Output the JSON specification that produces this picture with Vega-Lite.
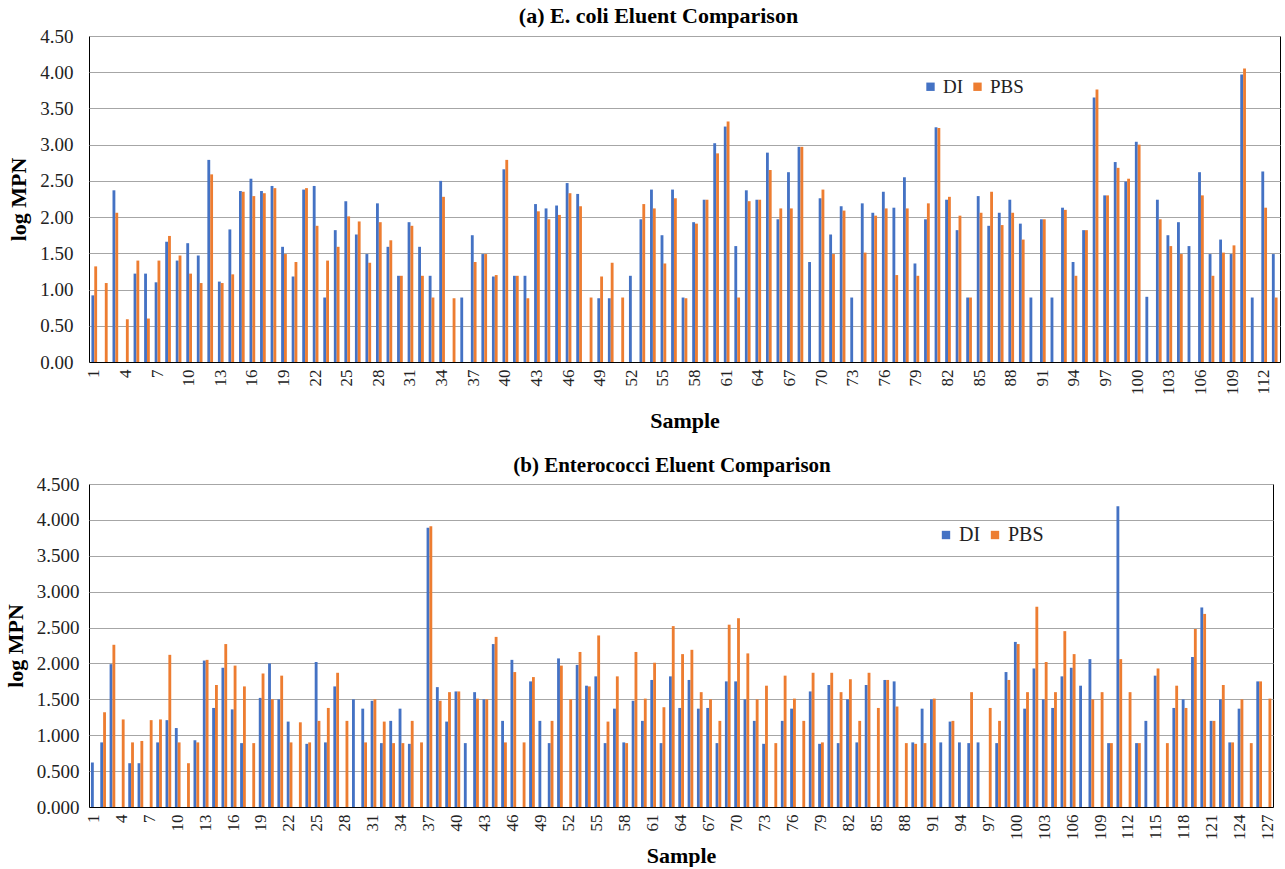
{
  "$schema": "https://vega.github.io/schema/vega-lite/v6.json",
  "background": "white",
  "padding": {"left": 3, "top": 4, "right": 4, "bottom": 0},
  "spacing": 22,
  "config": {
    "font": "Liberation Serif",
    "view": {"stroke": "#000000", "strokeWidth": 1},
    "title": {"font": "Liberation Serif", "fontSize": 21, "fontWeight": "bold", "color": "#000000", "anchor": "middle"},
    "axis": {"labelFont": "Liberation Serif", "titleFont": "Liberation Serif", "labelColor": "#222222", "titleColor": "#000000", "titleFontWeight": "bold", "titleFontSize": 22},
    "axisY": {"grid": true, "gridColor": "#a6a6a6", "gridWidth": 1, "ticks": false, "domain": false, "labelFontSize": 19, "labelPadding": 16},
    "axisX": {"grid": false, "ticks": false, "domain": true, "domainColor": "#000000", "labelAngle": 270, "labelFontSize": 17, "labelPadding": 7, "titlePadding": 14},
    "legend": {"orient": "none", "direction": "horizontal", "title": null, "symbolType": "square", "symbolSize": 70, "symbolStrokeWidth": 0, "labelFont": "Liberation Serif", "labelFontSize": 19, "labelColor": "#222222", "columnPadding": 4, "labelOffset": 3}
  },
  "datasets": {
    "ecoli": [
      {"sample":1,"eluent":"DI","logMPN":0.92},{"sample":1,"eluent":"PBS","logMPN":1.32},
      {"sample":2,"eluent":"DI","logMPN":0},{"sample":2,"eluent":"PBS","logMPN":1.09},
      {"sample":3,"eluent":"DI","logMPN":2.37},{"sample":3,"eluent":"PBS","logMPN":2.06},
      {"sample":4,"eluent":"DI","logMPN":0},{"sample":4,"eluent":"PBS","logMPN":0.59},
      {"sample":5,"eluent":"DI","logMPN":1.22},{"sample":5,"eluent":"PBS","logMPN":1.40},
      {"sample":6,"eluent":"DI","logMPN":1.22},{"sample":6,"eluent":"PBS","logMPN":0.60},
      {"sample":7,"eluent":"DI","logMPN":1.10},{"sample":7,"eluent":"PBS","logMPN":1.40},
      {"sample":8,"eluent":"DI","logMPN":1.66},{"sample":8,"eluent":"PBS","logMPN":1.74},
      {"sample":9,"eluent":"DI","logMPN":1.40},{"sample":9,"eluent":"PBS","logMPN":1.47},
      {"sample":10,"eluent":"DI","logMPN":1.64},{"sample":10,"eluent":"PBS","logMPN":1.22},
      {"sample":11,"eluent":"DI","logMPN":1.47},{"sample":11,"eluent":"PBS","logMPN":1.09},
      {"sample":12,"eluent":"DI","logMPN":2.79},{"sample":12,"eluent":"PBS","logMPN":2.59},
      {"sample":13,"eluent":"DI","logMPN":1.11},{"sample":13,"eluent":"PBS","logMPN":1.09},
      {"sample":14,"eluent":"DI","logMPN":1.83},{"sample":14,"eluent":"PBS","logMPN":1.21},
      {"sample":15,"eluent":"DI","logMPN":2.36},{"sample":15,"eluent":"PBS","logMPN":2.35},
      {"sample":16,"eluent":"DI","logMPN":2.53},{"sample":16,"eluent":"PBS","logMPN":2.29},
      {"sample":17,"eluent":"DI","logMPN":2.36},{"sample":17,"eluent":"PBS","logMPN":2.33},
      {"sample":18,"eluent":"DI","logMPN":2.43},{"sample":18,"eluent":"PBS","logMPN":2.40},
      {"sample":19,"eluent":"DI","logMPN":1.59},{"sample":19,"eluent":"PBS","logMPN":1.49},
      {"sample":20,"eluent":"DI","logMPN":1.18},{"sample":20,"eluent":"PBS","logMPN":1.38},
      {"sample":21,"eluent":"DI","logMPN":2.38},{"sample":21,"eluent":"PBS","logMPN":2.40},
      {"sample":22,"eluent":"DI","logMPN":2.43},{"sample":22,"eluent":"PBS","logMPN":1.88},
      {"sample":23,"eluent":"DI","logMPN":0.89},{"sample":23,"eluent":"PBS","logMPN":1.40},
      {"sample":24,"eluent":"DI","logMPN":1.82},{"sample":24,"eluent":"PBS","logMPN":1.59},
      {"sample":25,"eluent":"DI","logMPN":2.22},{"sample":25,"eluent":"PBS","logMPN":2.01},
      {"sample":26,"eluent":"DI","logMPN":1.76},{"sample":26,"eluent":"PBS","logMPN":1.94},
      {"sample":27,"eluent":"DI","logMPN":1.49},{"sample":27,"eluent":"PBS","logMPN":1.37},
      {"sample":28,"eluent":"DI","logMPN":2.19},{"sample":28,"eluent":"PBS","logMPN":1.93},
      {"sample":29,"eluent":"DI","logMPN":1.59},{"sample":29,"eluent":"PBS","logMPN":1.68},
      {"sample":30,"eluent":"DI","logMPN":1.19},{"sample":30,"eluent":"PBS","logMPN":1.19},
      {"sample":31,"eluent":"DI","logMPN":1.93},{"sample":31,"eluent":"PBS","logMPN":1.88},
      {"sample":32,"eluent":"DI","logMPN":1.59},{"sample":32,"eluent":"PBS","logMPN":1.19},
      {"sample":33,"eluent":"DI","logMPN":1.19},{"sample":33,"eluent":"PBS","logMPN":0.89},
      {"sample":34,"eluent":"DI","logMPN":2.50},{"sample":34,"eluent":"PBS","logMPN":2.28},
      {"sample":35,"eluent":"DI","logMPN":0},{"sample":35,"eluent":"PBS","logMPN":0.88},
      {"sample":36,"eluent":"DI","logMPN":0.89},{"sample":36,"eluent":"PBS","logMPN":0},
      {"sample":37,"eluent":"DI","logMPN":1.75},{"sample":37,"eluent":"PBS","logMPN":1.38},
      {"sample":38,"eluent":"DI","logMPN":1.49},{"sample":38,"eluent":"PBS","logMPN":1.49},
      {"sample":39,"eluent":"DI","logMPN":1.18},{"sample":39,"eluent":"PBS","logMPN":1.20},
      {"sample":40,"eluent":"DI","logMPN":2.66},{"sample":40,"eluent":"PBS","logMPN":2.79},
      {"sample":41,"eluent":"DI","logMPN":1.19},{"sample":41,"eluent":"PBS","logMPN":1.19},
      {"sample":42,"eluent":"DI","logMPN":1.19},{"sample":42,"eluent":"PBS","logMPN":0.88},
      {"sample":43,"eluent":"DI","logMPN":2.18},{"sample":43,"eluent":"PBS","logMPN":2.08},
      {"sample":44,"eluent":"DI","logMPN":2.12},{"sample":44,"eluent":"PBS","logMPN":1.97},
      {"sample":45,"eluent":"DI","logMPN":2.16},{"sample":45,"eluent":"PBS","logMPN":2.03},
      {"sample":46,"eluent":"DI","logMPN":2.47},{"sample":46,"eluent":"PBS","logMPN":2.33},
      {"sample":47,"eluent":"DI","logMPN":2.32},{"sample":47,"eluent":"PBS","logMPN":2.15},
      {"sample":48,"eluent":"DI","logMPN":0},{"sample":48,"eluent":"PBS","logMPN":0.89},
      {"sample":49,"eluent":"DI","logMPN":0.88},{"sample":49,"eluent":"PBS","logMPN":1.18},
      {"sample":50,"eluent":"DI","logMPN":0.88},{"sample":50,"eluent":"PBS","logMPN":1.37},
      {"sample":51,"eluent":"DI","logMPN":0},{"sample":51,"eluent":"PBS","logMPN":0.89},
      {"sample":52,"eluent":"DI","logMPN":1.19},{"sample":52,"eluent":"PBS","logMPN":0},
      {"sample":53,"eluent":"DI","logMPN":1.97},{"sample":53,"eluent":"PBS","logMPN":2.18},
      {"sample":54,"eluent":"DI","logMPN":2.38},{"sample":54,"eluent":"PBS","logMPN":2.12},
      {"sample":55,"eluent":"DI","logMPN":1.75},{"sample":55,"eluent":"PBS","logMPN":1.36},
      {"sample":56,"eluent":"DI","logMPN":2.38},{"sample":56,"eluent":"PBS","logMPN":2.26},
      {"sample":57,"eluent":"DI","logMPN":0.89},{"sample":57,"eluent":"PBS","logMPN":0.88},
      {"sample":58,"eluent":"DI","logMPN":1.93},{"sample":58,"eluent":"PBS","logMPN":1.91},
      {"sample":59,"eluent":"DI","logMPN":2.24},{"sample":59,"eluent":"PBS","logMPN":2.24},
      {"sample":60,"eluent":"DI","logMPN":3.02},{"sample":60,"eluent":"PBS","logMPN":2.88},
      {"sample":61,"eluent":"DI","logMPN":3.25},{"sample":61,"eluent":"PBS","logMPN":3.32},
      {"sample":62,"eluent":"DI","logMPN":1.60},{"sample":62,"eluent":"PBS","logMPN":0.89},
      {"sample":63,"eluent":"DI","logMPN":2.37},{"sample":63,"eluent":"PBS","logMPN":2.22},
      {"sample":64,"eluent":"DI","logMPN":2.24},{"sample":64,"eluent":"PBS","logMPN":2.24},
      {"sample":65,"eluent":"DI","logMPN":2.89},{"sample":65,"eluent":"PBS","logMPN":2.65},
      {"sample":66,"eluent":"DI","logMPN":1.97},{"sample":66,"eluent":"PBS","logMPN":2.12},
      {"sample":67,"eluent":"DI","logMPN":2.62},{"sample":67,"eluent":"PBS","logMPN":2.12},
      {"sample":68,"eluent":"DI","logMPN":2.97},{"sample":68,"eluent":"PBS","logMPN":2.97},
      {"sample":69,"eluent":"DI","logMPN":1.38},{"sample":69,"eluent":"PBS","logMPN":0},
      {"sample":70,"eluent":"DI","logMPN":2.26},{"sample":70,"eluent":"PBS","logMPN":2.38},
      {"sample":71,"eluent":"DI","logMPN":1.76},{"sample":71,"eluent":"PBS","logMPN":1.49},
      {"sample":72,"eluent":"DI","logMPN":2.15},{"sample":72,"eluent":"PBS","logMPN":2.09},
      {"sample":73,"eluent":"DI","logMPN":0.89},{"sample":73,"eluent":"PBS","logMPN":0},
      {"sample":74,"eluent":"DI","logMPN":2.19},{"sample":74,"eluent":"PBS","logMPN":1.51},
      {"sample":75,"eluent":"DI","logMPN":2.06},{"sample":75,"eluent":"PBS","logMPN":2.02},
      {"sample":76,"eluent":"DI","logMPN":2.35},{"sample":76,"eluent":"PBS","logMPN":2.12},
      {"sample":77,"eluent":"DI","logMPN":2.13},{"sample":77,"eluent":"PBS","logMPN":1.20},
      {"sample":78,"eluent":"DI","logMPN":2.55},{"sample":78,"eluent":"PBS","logMPN":2.12},
      {"sample":79,"eluent":"DI","logMPN":1.36},{"sample":79,"eluent":"PBS","logMPN":1.19},
      {"sample":80,"eluent":"DI","logMPN":1.97},{"sample":80,"eluent":"PBS","logMPN":2.19},
      {"sample":81,"eluent":"DI","logMPN":3.24},{"sample":81,"eluent":"PBS","logMPN":3.23},
      {"sample":82,"eluent":"DI","logMPN":2.24},{"sample":82,"eluent":"PBS","logMPN":2.28},
      {"sample":83,"eluent":"DI","logMPN":1.82},{"sample":83,"eluent":"PBS","logMPN":2.02},
      {"sample":84,"eluent":"DI","logMPN":0.89},{"sample":84,"eluent":"PBS","logMPN":0.89},
      {"sample":85,"eluent":"DI","logMPN":2.29},{"sample":85,"eluent":"PBS","logMPN":2.06},
      {"sample":86,"eluent":"DI","logMPN":1.88},{"sample":86,"eluent":"PBS","logMPN":2.35},
      {"sample":87,"eluent":"DI","logMPN":2.06},{"sample":87,"eluent":"PBS","logMPN":1.89},
      {"sample":88,"eluent":"DI","logMPN":2.24},{"sample":88,"eluent":"PBS","logMPN":2.06},
      {"sample":89,"eluent":"DI","logMPN":1.91},{"sample":89,"eluent":"PBS","logMPN":1.69},
      {"sample":90,"eluent":"DI","logMPN":0.89},{"sample":90,"eluent":"PBS","logMPN":0},
      {"sample":91,"eluent":"DI","logMPN":1.97},{"sample":91,"eluent":"PBS","logMPN":1.97},
      {"sample":92,"eluent":"DI","logMPN":0.89},{"sample":92,"eluent":"PBS","logMPN":0},
      {"sample":93,"eluent":"DI","logMPN":2.13},{"sample":93,"eluent":"PBS","logMPN":2.10},
      {"sample":94,"eluent":"DI","logMPN":1.38},{"sample":94,"eluent":"PBS","logMPN":1.19},
      {"sample":95,"eluent":"DI","logMPN":1.82},{"sample":95,"eluent":"PBS","logMPN":1.82},
      {"sample":96,"eluent":"DI","logMPN":3.65},{"sample":96,"eluent":"PBS","logMPN":3.76},
      {"sample":97,"eluent":"DI","logMPN":2.30},{"sample":97,"eluent":"PBS","logMPN":2.30},
      {"sample":98,"eluent":"DI","logMPN":2.76},{"sample":98,"eluent":"PBS","logMPN":2.68},
      {"sample":99,"eluent":"DI","logMPN":2.49},{"sample":99,"eluent":"PBS","logMPN":2.53},
      {"sample":100,"eluent":"DI","logMPN":3.04},{"sample":100,"eluent":"PBS","logMPN":3.00},
      {"sample":101,"eluent":"DI","logMPN":0.90},{"sample":101,"eluent":"PBS","logMPN":0},
      {"sample":102,"eluent":"DI","logMPN":2.24},{"sample":102,"eluent":"PBS","logMPN":1.97},
      {"sample":103,"eluent":"DI","logMPN":1.75},{"sample":103,"eluent":"PBS","logMPN":1.60},
      {"sample":104,"eluent":"DI","logMPN":1.93},{"sample":104,"eluent":"PBS","logMPN":1.49},
      {"sample":105,"eluent":"DI","logMPN":1.60},{"sample":105,"eluent":"PBS","logMPN":0},
      {"sample":106,"eluent":"DI","logMPN":2.62},{"sample":106,"eluent":"PBS","logMPN":2.30},
      {"sample":107,"eluent":"DI","logMPN":1.49},{"sample":107,"eluent":"PBS","logMPN":1.19},
      {"sample":108,"eluent":"DI","logMPN":1.69},{"sample":108,"eluent":"PBS","logMPN":1.51},
      {"sample":109,"eluent":"DI","logMPN":1.49},{"sample":109,"eluent":"PBS","logMPN":1.61},
      {"sample":110,"eluent":"DI","logMPN":3.97},{"sample":110,"eluent":"PBS","logMPN":4.05},
      {"sample":111,"eluent":"DI","logMPN":0.89},{"sample":111,"eluent":"PBS","logMPN":0},
      {"sample":112,"eluent":"DI","logMPN":2.63},{"sample":112,"eluent":"PBS","logMPN":2.13},
      {"sample":113,"eluent":"DI","logMPN":1.49},{"sample":113,"eluent":"PBS","logMPN":0.89}
    ],
    "entero": [
      {"sample":1,"eluent":"DI","logMPN":0.62},{"sample":1,"eluent":"PBS","logMPN":0},
      {"sample":2,"eluent":"DI","logMPN":0.90},{"sample":2,"eluent":"PBS","logMPN":1.32},
      {"sample":3,"eluent":"DI","logMPN":1.99},{"sample":3,"eluent":"PBS","logMPN":2.26},
      {"sample":4,"eluent":"DI","logMPN":0},{"sample":4,"eluent":"PBS","logMPN":1.22},
      {"sample":5,"eluent":"DI","logMPN":0.61},{"sample":5,"eluent":"PBS","logMPN":0.90},
      {"sample":6,"eluent":"DI","logMPN":0.61},{"sample":6,"eluent":"PBS","logMPN":0.92},
      {"sample":7,"eluent":"DI","logMPN":0},{"sample":7,"eluent":"PBS","logMPN":1.21},
      {"sample":8,"eluent":"DI","logMPN":0.90},{"sample":8,"eluent":"PBS","logMPN":1.22},
      {"sample":9,"eluent":"DI","logMPN":1.21},{"sample":9,"eluent":"PBS","logMPN":2.12},
      {"sample":10,"eluent":"DI","logMPN":1.10},{"sample":10,"eluent":"PBS","logMPN":0.90},
      {"sample":11,"eluent":"DI","logMPN":0},{"sample":11,"eluent":"PBS","logMPN":0.61},
      {"sample":12,"eluent":"DI","logMPN":0.93},{"sample":12,"eluent":"PBS","logMPN":0.90},
      {"sample":13,"eluent":"DI","logMPN":2.04},{"sample":13,"eluent":"PBS","logMPN":2.05},
      {"sample":14,"eluent":"DI","logMPN":1.38},{"sample":14,"eluent":"PBS","logMPN":1.70},
      {"sample":15,"eluent":"DI","logMPN":1.94},{"sample":15,"eluent":"PBS","logMPN":2.27},
      {"sample":16,"eluent":"DI","logMPN":1.36},{"sample":16,"eluent":"PBS","logMPN":1.97},
      {"sample":17,"eluent":"DI","logMPN":0.89},{"sample":17,"eluent":"PBS","logMPN":1.68},
      {"sample":18,"eluent":"DI","logMPN":0},{"sample":18,"eluent":"PBS","logMPN":0.89},
      {"sample":19,"eluent":"DI","logMPN":1.52},{"sample":19,"eluent":"PBS","logMPN":1.86},
      {"sample":20,"eluent":"DI","logMPN":2.00},{"sample":20,"eluent":"PBS","logMPN":1.50},
      {"sample":21,"eluent":"DI","logMPN":1.50},{"sample":21,"eluent":"PBS","logMPN":1.83},
      {"sample":22,"eluent":"DI","logMPN":1.19},{"sample":22,"eluent":"PBS","logMPN":0.90},
      {"sample":23,"eluent":"DI","logMPN":0},{"sample":23,"eluent":"PBS","logMPN":1.18},
      {"sample":24,"eluent":"DI","logMPN":0.88},{"sample":24,"eluent":"PBS","logMPN":0.90},
      {"sample":25,"eluent":"DI","logMPN":2.02},{"sample":25,"eluent":"PBS","logMPN":1.20},
      {"sample":26,"eluent":"DI","logMPN":0.90},{"sample":26,"eluent":"PBS","logMPN":1.38},
      {"sample":27,"eluent":"DI","logMPN":1.68},{"sample":27,"eluent":"PBS","logMPN":1.87},
      {"sample":28,"eluent":"DI","logMPN":0},{"sample":28,"eluent":"PBS","logMPN":1.20},
      {"sample":29,"eluent":"DI","logMPN":1.50},{"sample":29,"eluent":"PBS","logMPN":0},
      {"sample":30,"eluent":"DI","logMPN":1.37},{"sample":30,"eluent":"PBS","logMPN":0.90},
      {"sample":31,"eluent":"DI","logMPN":1.48},{"sample":31,"eluent":"PBS","logMPN":1.50},
      {"sample":32,"eluent":"DI","logMPN":0.89},{"sample":32,"eluent":"PBS","logMPN":1.19},
      {"sample":33,"eluent":"DI","logMPN":1.20},{"sample":33,"eluent":"PBS","logMPN":0.89},
      {"sample":34,"eluent":"DI","logMPN":1.37},{"sample":34,"eluent":"PBS","logMPN":0.89},
      {"sample":35,"eluent":"DI","logMPN":0.88},{"sample":35,"eluent":"PBS","logMPN":1.20},
      {"sample":36,"eluent":"DI","logMPN":0},{"sample":36,"eluent":"PBS","logMPN":0.90},
      {"sample":37,"eluent":"DI","logMPN":3.89},{"sample":37,"eluent":"PBS","logMPN":3.91},
      {"sample":38,"eluent":"DI","logMPN":1.67},{"sample":38,"eluent":"PBS","logMPN":1.48},
      {"sample":39,"eluent":"DI","logMPN":1.19},{"sample":39,"eluent":"PBS","logMPN":1.60},
      {"sample":40,"eluent":"DI","logMPN":1.61},{"sample":40,"eluent":"PBS","logMPN":1.61},
      {"sample":41,"eluent":"DI","logMPN":0.89},{"sample":41,"eluent":"PBS","logMPN":0},
      {"sample":42,"eluent":"DI","logMPN":1.60},{"sample":42,"eluent":"PBS","logMPN":1.51},
      {"sample":43,"eluent":"DI","logMPN":1.50},{"sample":43,"eluent":"PBS","logMPN":1.50},
      {"sample":44,"eluent":"DI","logMPN":2.27},{"sample":44,"eluent":"PBS","logMPN":2.37},
      {"sample":45,"eluent":"DI","logMPN":1.20},{"sample":45,"eluent":"PBS","logMPN":0.90},
      {"sample":46,"eluent":"DI","logMPN":2.05},{"sample":46,"eluent":"PBS","logMPN":1.88},
      {"sample":47,"eluent":"DI","logMPN":0},{"sample":47,"eluent":"PBS","logMPN":0.90},
      {"sample":48,"eluent":"DI","logMPN":1.75},{"sample":48,"eluent":"PBS","logMPN":1.81},
      {"sample":49,"eluent":"DI","logMPN":1.20},{"sample":49,"eluent":"PBS","logMPN":0},
      {"sample":50,"eluent":"DI","logMPN":0.89},{"sample":50,"eluent":"PBS","logMPN":1.20},
      {"sample":51,"eluent":"DI","logMPN":2.07},{"sample":51,"eluent":"PBS","logMPN":1.97},
      {"sample":52,"eluent":"DI","logMPN":0},{"sample":52,"eluent":"PBS","logMPN":1.50},
      {"sample":53,"eluent":"DI","logMPN":1.98},{"sample":53,"eluent":"PBS","logMPN":2.16},
      {"sample":54,"eluent":"DI","logMPN":1.69},{"sample":54,"eluent":"PBS","logMPN":1.68},
      {"sample":55,"eluent":"DI","logMPN":1.82},{"sample":55,"eluent":"PBS","logMPN":2.39},
      {"sample":56,"eluent":"DI","logMPN":0.89},{"sample":56,"eluent":"PBS","logMPN":1.19},
      {"sample":57,"eluent":"DI","logMPN":1.37},{"sample":57,"eluent":"PBS","logMPN":1.82},
      {"sample":58,"eluent":"DI","logMPN":0.90},{"sample":58,"eluent":"PBS","logMPN":0.89},
      {"sample":59,"eluent":"DI","logMPN":1.48},{"sample":59,"eluent":"PBS","logMPN":2.16},
      {"sample":60,"eluent":"DI","logMPN":1.20},{"sample":60,"eluent":"PBS","logMPN":1.51},
      {"sample":61,"eluent":"DI","logMPN":1.77},{"sample":61,"eluent":"PBS","logMPN":2.01},
      {"sample":62,"eluent":"DI","logMPN":0.89},{"sample":62,"eluent":"PBS","logMPN":1.39},
      {"sample":63,"eluent":"DI","logMPN":1.82},{"sample":63,"eluent":"PBS","logMPN":2.52},
      {"sample":64,"eluent":"DI","logMPN":1.38},{"sample":64,"eluent":"PBS","logMPN":2.13},
      {"sample":65,"eluent":"DI","logMPN":1.77},{"sample":65,"eluent":"PBS","logMPN":2.19},
      {"sample":66,"eluent":"DI","logMPN":1.37},{"sample":66,"eluent":"PBS","logMPN":1.60},
      {"sample":67,"eluent":"DI","logMPN":1.38},{"sample":67,"eluent":"PBS","logMPN":1.50},
      {"sample":68,"eluent":"DI","logMPN":0.89},{"sample":68,"eluent":"PBS","logMPN":1.20},
      {"sample":69,"eluent":"DI","logMPN":1.75},{"sample":69,"eluent":"PBS","logMPN":2.54},
      {"sample":70,"eluent":"DI","logMPN":1.75},{"sample":70,"eluent":"PBS","logMPN":2.63},
      {"sample":71,"eluent":"DI","logMPN":1.50},{"sample":71,"eluent":"PBS","logMPN":2.14},
      {"sample":72,"eluent":"DI","logMPN":1.20},{"sample":72,"eluent":"PBS","logMPN":1.50},
      {"sample":73,"eluent":"DI","logMPN":0.88},{"sample":73,"eluent":"PBS","logMPN":1.69},
      {"sample":74,"eluent":"DI","logMPN":0},{"sample":74,"eluent":"PBS","logMPN":0.89},
      {"sample":75,"eluent":"DI","logMPN":1.20},{"sample":75,"eluent":"PBS","logMPN":1.83},
      {"sample":76,"eluent":"DI","logMPN":1.37},{"sample":76,"eluent":"PBS","logMPN":1.51},
      {"sample":77,"eluent":"DI","logMPN":0},{"sample":77,"eluent":"PBS","logMPN":1.20},
      {"sample":78,"eluent":"DI","logMPN":1.61},{"sample":78,"eluent":"PBS","logMPN":1.87},
      {"sample":79,"eluent":"DI","logMPN":0.88},{"sample":79,"eluent":"PBS","logMPN":0.90},
      {"sample":80,"eluent":"DI","logMPN":1.70},{"sample":80,"eluent":"PBS","logMPN":1.87},
      {"sample":81,"eluent":"DI","logMPN":0.89},{"sample":81,"eluent":"PBS","logMPN":1.60},
      {"sample":82,"eluent":"DI","logMPN":1.50},{"sample":82,"eluent":"PBS","logMPN":1.78},
      {"sample":83,"eluent":"DI","logMPN":0.90},{"sample":83,"eluent":"PBS","logMPN":1.20},
      {"sample":84,"eluent":"DI","logMPN":1.70},{"sample":84,"eluent":"PBS","logMPN":1.87},
      {"sample":85,"eluent":"DI","logMPN":0},{"sample":85,"eluent":"PBS","logMPN":1.38},
      {"sample":86,"eluent":"DI","logMPN":1.77},{"sample":86,"eluent":"PBS","logMPN":1.77},
      {"sample":87,"eluent":"DI","logMPN":1.75},{"sample":87,"eluent":"PBS","logMPN":1.40},
      {"sample":88,"eluent":"DI","logMPN":0},{"sample":88,"eluent":"PBS","logMPN":0.89},
      {"sample":89,"eluent":"DI","logMPN":0.90},{"sample":89,"eluent":"PBS","logMPN":0.88},
      {"sample":90,"eluent":"DI","logMPN":1.37},{"sample":90,"eluent":"PBS","logMPN":0.89},
      {"sample":91,"eluent":"DI","logMPN":1.50},{"sample":91,"eluent":"PBS","logMPN":1.51},
      {"sample":92,"eluent":"DI","logMPN":0.90},{"sample":92,"eluent":"PBS","logMPN":0},
      {"sample":93,"eluent":"DI","logMPN":1.19},{"sample":93,"eluent":"PBS","logMPN":1.20},
      {"sample":94,"eluent":"DI","logMPN":0.90},{"sample":94,"eluent":"PBS","logMPN":0},
      {"sample":95,"eluent":"DI","logMPN":0.89},{"sample":95,"eluent":"PBS","logMPN":1.60},
      {"sample":96,"eluent":"DI","logMPN":0.90},{"sample":96,"eluent":"PBS","logMPN":0},
      {"sample":97,"eluent":"DI","logMPN":0},{"sample":97,"eluent":"PBS","logMPN":1.38},
      {"sample":98,"eluent":"DI","logMPN":0.89},{"sample":98,"eluent":"PBS","logMPN":1.20},
      {"sample":99,"eluent":"DI","logMPN":1.88},{"sample":99,"eluent":"PBS","logMPN":1.77},
      {"sample":100,"eluent":"DI","logMPN":2.30},{"sample":100,"eluent":"PBS","logMPN":2.27},
      {"sample":101,"eluent":"DI","logMPN":1.37},{"sample":101,"eluent":"PBS","logMPN":1.60},
      {"sample":102,"eluent":"DI","logMPN":1.93},{"sample":102,"eluent":"PBS","logMPN":2.79},
      {"sample":103,"eluent":"DI","logMPN":1.50},{"sample":103,"eluent":"PBS","logMPN":2.02},
      {"sample":104,"eluent":"DI","logMPN":1.38},{"sample":104,"eluent":"PBS","logMPN":1.60},
      {"sample":105,"eluent":"DI","logMPN":1.82},{"sample":105,"eluent":"PBS","logMPN":2.45},
      {"sample":106,"eluent":"DI","logMPN":1.94},{"sample":106,"eluent":"PBS","logMPN":2.13},
      {"sample":107,"eluent":"DI","logMPN":1.69},{"sample":107,"eluent":"PBS","logMPN":0},
      {"sample":108,"eluent":"DI","logMPN":2.06},{"sample":108,"eluent":"PBS","logMPN":1.50},
      {"sample":109,"eluent":"DI","logMPN":0},{"sample":109,"eluent":"PBS","logMPN":1.60},
      {"sample":110,"eluent":"DI","logMPN":0.89},{"sample":110,"eluent":"PBS","logMPN":0.89},
      {"sample":111,"eluent":"DI","logMPN":4.19},{"sample":111,"eluent":"PBS","logMPN":2.06},
      {"sample":112,"eluent":"DI","logMPN":0},{"sample":112,"eluent":"PBS","logMPN":1.60},
      {"sample":113,"eluent":"DI","logMPN":0.89},{"sample":113,"eluent":"PBS","logMPN":0.89},
      {"sample":114,"eluent":"DI","logMPN":1.20},{"sample":114,"eluent":"PBS","logMPN":0},
      {"sample":115,"eluent":"DI","logMPN":1.83},{"sample":115,"eluent":"PBS","logMPN":1.93},
      {"sample":116,"eluent":"DI","logMPN":0},{"sample":116,"eluent":"PBS","logMPN":0.89},
      {"sample":117,"eluent":"DI","logMPN":1.38},{"sample":117,"eluent":"PBS","logMPN":1.69},
      {"sample":118,"eluent":"DI","logMPN":1.50},{"sample":118,"eluent":"PBS","logMPN":1.38},
      {"sample":119,"eluent":"DI","logMPN":2.09},{"sample":119,"eluent":"PBS","logMPN":2.48},
      {"sample":120,"eluent":"DI","logMPN":2.78},{"sample":120,"eluent":"PBS","logMPN":2.69},
      {"sample":121,"eluent":"DI","logMPN":1.20},{"sample":121,"eluent":"PBS","logMPN":1.20},
      {"sample":122,"eluent":"DI","logMPN":1.50},{"sample":122,"eluent":"PBS","logMPN":1.70},
      {"sample":123,"eluent":"DI","logMPN":0.90},{"sample":123,"eluent":"PBS","logMPN":0.90},
      {"sample":124,"eluent":"DI","logMPN":1.37},{"sample":124,"eluent":"PBS","logMPN":1.50},
      {"sample":125,"eluent":"DI","logMPN":0},{"sample":125,"eluent":"PBS","logMPN":0.89},
      {"sample":126,"eluent":"DI","logMPN":1.75},{"sample":126,"eluent":"PBS","logMPN":1.75},
      {"sample":127,"eluent":"DI","logMPN":0},{"sample":127,"eluent":"PBS","logMPN":1.51}
    ]
  },
  "vconcat": [
    {
      "title": {"text": "(a) E. coli Eluent Comparison", "fontSize": 22, "dx": -26, "offset": -1},
      "data": {"name": "ecoli"},
      "width": 1191,
      "height": 326,
      "mark": {"type": "bar"},
      "encoding": {
        "x": {
          "field": "sample", "type": "ordinal",
          "scale": {"paddingInner": 0.46, "paddingOuter": 0.23},
          "axis": {"title": "Sample", "titlePadding": 16, "values": [1,4,7,10,13,16,19,22,25,28,31,34,37,40,43,46,49,52,55,58,61,64,67,70,73,76,79,82,85,88,91,94,97,100,103,106,109,112]}
        },
        "xOffset": {"field": "eluent", "type": "nominal", "sort": ["DI", "PBS"]},
        "y": {
          "field": "logMPN", "type": "quantitative",
          "scale": {"domain": [0, 4.5], "nice": false},
          "axis": {"title": "log MPN", "values": [0,0.5,1,1.5,2,2.5,3,3.5,4,4.5], "format": ".2f", "titleX": -59, "titleBaseline": "bottom"}
        },
        "color": {
          "field": "eluent", "type": "nominal", "sort": ["DI", "PBS"],
          "scale": {"domain": ["DI", "PBS"], "range": ["#4472C4", "#ED7D31"]},
          "legend": {"legendX": 832, "legendY": 41}
        }
      }
    },
    {
      "title": {"text": "(b) Enterococci Eluent Comparison", "dx": -9, "offset": -1},
      "data": {"name": "entero"},
      "width": 1184,
      "height": 323,
      "mark": {"type": "bar"},
      "encoding": {
        "x": {
          "field": "sample", "type": "ordinal",
          "scale": {"paddingInner": 0.42, "paddingOuter": 0.21},
          "axis": {"title": "Sample", "titlePadding": 6, "values": [1,4,7,10,13,16,19,22,25,28,31,34,37,40,43,46,49,52,55,58,61,64,67,70,73,76,79,82,85,88,91,94,97,100,103,106,109,112,115,118,121,124,127]}
        },
        "xOffset": {"field": "eluent", "type": "nominal", "sort": ["DI", "PBS"]},
        "y": {
          "field": "logMPN", "type": "quantitative",
          "scale": {"domain": [0, 4.5], "nice": false},
          "axis": {"title": "log MPN", "values": [0,0.5,1,1.5,2,2.5,3,3.5,4,4.5], "format": ".3f", "labelPadding": 10, "titleX": -62, "titleBaseline": "bottom"}
        },
        "color": {
          "field": "eluent", "type": "nominal", "sort": ["DI", "PBS"],
          "scale": {"domain": ["DI", "PBS"], "range": ["#4472C4", "#ED7D31"]},
          "legend": {"legendX": 847, "legendY": 41, "labelFontSize": 20}
        }
      }
    }
  ],
  "resolve": {"scale": {"x": "independent", "color": "shared"}, "legend": {"color": "independent"}}
}
